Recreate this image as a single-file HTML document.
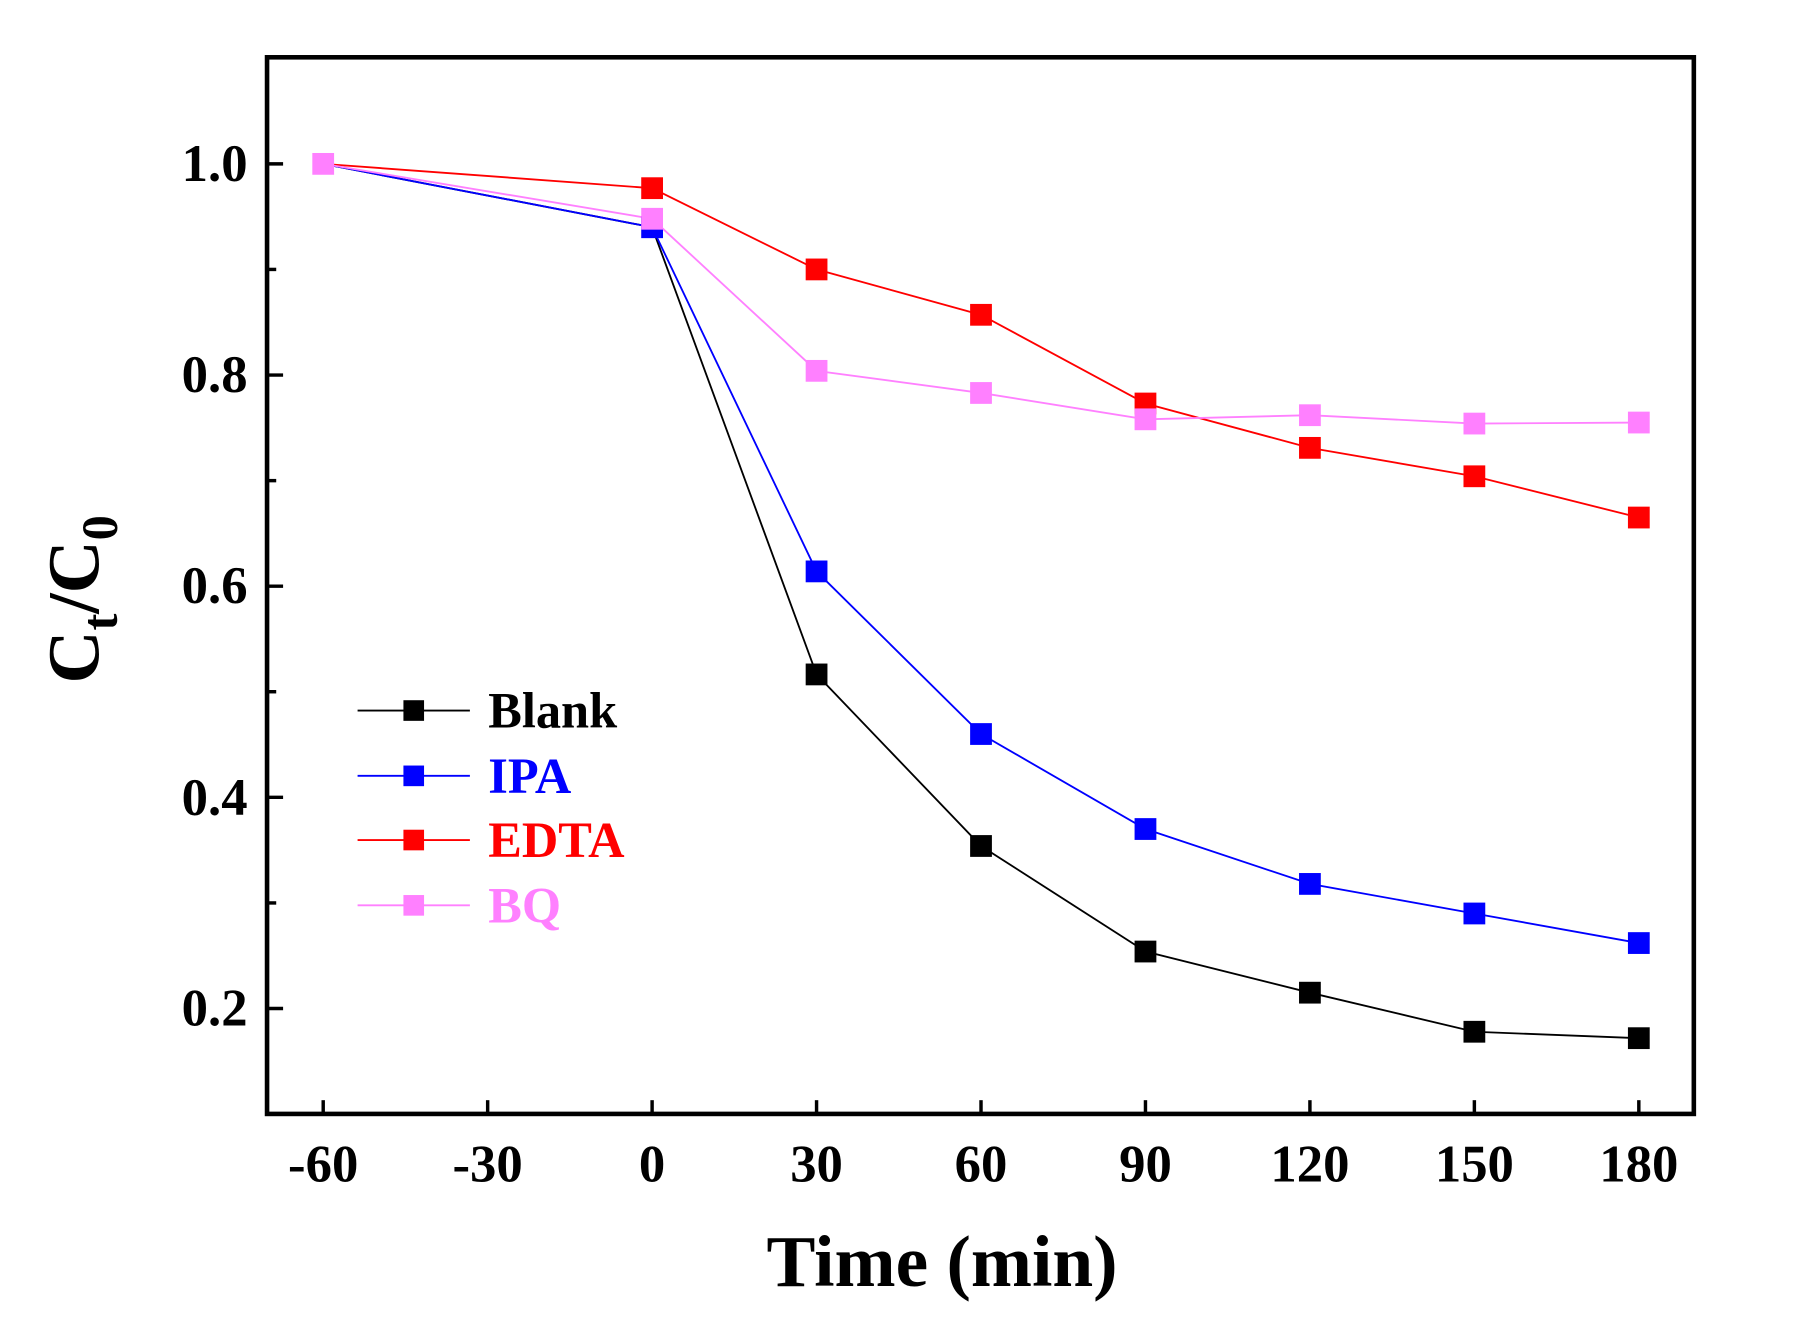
<!DOCTYPE html>
<html><head><style>html,body{margin:0;padding:0;background:#fff}svg{display:block}</style></head>
<body>
<svg width="1797" height="1339" viewBox="0 0 1568 1168.4" xmlns="http://www.w3.org/2000/svg" font-family="Liberation Serif, serif" font-weight="bold">
<rect x="0" y="0" width="1568" height="1168.4" fill="#fff"/>
<rect x="233" y="50" width="1245" height="922" fill="none" stroke="#000" stroke-width="4"/>
<g stroke="#000" stroke-width="3">
<line x1="282" y1="972" x2="282" y2="960"/><line x1="425.5" y1="972" x2="425.5" y2="960"/><line x1="569" y1="972" x2="569" y2="960"/><line x1="712.5" y1="972" x2="712.5" y2="960"/><line x1="856" y1="972" x2="856" y2="960"/><line x1="999.5" y1="972" x2="999.5" y2="960"/><line x1="1143" y1="972" x2="1143" y2="960"/><line x1="1286.5" y1="972" x2="1286.5" y2="960"/><line x1="1430" y1="972" x2="1430" y2="960"/>
<line x1="233" y1="143" x2="247" y2="143"/><line x1="233" y1="327.25" x2="247" y2="327.25"/><line x1="233" y1="511.5" x2="247" y2="511.5"/><line x1="233" y1="695.75" x2="247" y2="695.75"/><line x1="233" y1="880" x2="247" y2="880"/>
<line x1="233" y1="235.1" x2="241" y2="235.1"/><line x1="233" y1="419.4" x2="241" y2="419.4"/><line x1="233" y1="603.6" x2="241" y2="603.6"/><line x1="233" y1="787.9" x2="241" y2="787.9"/>
</g>
<g font-size="46" text-anchor="middle">
<text x="282" y="1031">-60</text><text x="425.5" y="1031">-30</text><text x="569" y="1031">0</text><text x="712.5" y="1031">30</text><text x="856" y="1031">60</text><text x="999.5" y="1031">90</text><text x="1143" y="1031">120</text><text x="1286.5" y="1031">150</text><text x="1430" y="1031">180</text>
</g>
<g font-size="46" text-anchor="end">
<text x="216" y="158">1.0</text><text x="216" y="342">0.8</text><text x="216" y="526">0.6</text><text x="216" y="711">0.4</text><text x="216" y="895">0.2</text>
</g>
<text x="822" y="1122" font-size="64" text-anchor="middle">Time (min)</text>
<text transform="translate(86,523) rotate(-90)" font-size="64" text-anchor="middle">C<tspan font-size="44" dy="16">t</tspan><tspan dy="-16">/C</tspan><tspan font-size="44" dy="16">0</tspan></text>
<g fill="none" stroke-width="1.6">
<polyline stroke="#000" points="282,143 569,198.3 712.5,588.5 856,738.2 999.5,830.3 1143,866.2 1286.5,900.3 1430,905.9"/>
<polyline stroke="#0000ff" points="282,143 569,198.3 712.5,498.6 856,640.5 999.5,723.4 1143,771.3 1286.5,797.1 1430,822.9"/>
<polyline stroke="#ff0000" points="282,143 569,164.2 712.5,235.1 856,274.7 999.5,352.1 1143,390.8 1286.5,415.6 1430,451.6"/>
<polyline stroke="#ff80ff" points="282,143 569,190.9 712.5,323.6 856,342.9 999.5,365.9 1143,362.3 1286.5,369.6 1430,368.7"/>
</g>
<g fill="#000"><rect x="703" y="579" width="19" height="19"/><rect x="846.5" y="728.7" width="19" height="19"/><rect x="990" y="820.8" width="19" height="19"/><rect x="1133.5" y="856.7" width="19" height="19"/><rect x="1277" y="890.8" width="19" height="19"/><rect x="1420.5" y="896.4" width="19" height="19"/></g>
<g fill="#0000ff"><rect x="559.5" y="188.8" width="19" height="19"/><rect x="703" y="489.1" width="19" height="19"/><rect x="846.5" y="631" width="19" height="19"/><rect x="990" y="713.9" width="19" height="19"/><rect x="1133.5" y="761.8" width="19" height="19"/><rect x="1277" y="787.6" width="19" height="19"/><rect x="1420.5" y="813.4" width="19" height="19"/></g>
<g fill="#ff0000"><rect x="559.5" y="154.7" width="19" height="19"/><rect x="703" y="225.6" width="19" height="19"/><rect x="846.5" y="265.2" width="19" height="19"/><rect x="990" y="342.6" width="19" height="19"/><rect x="1133.5" y="381.3" width="19" height="19"/><rect x="1277" y="406.1" width="19" height="19"/><rect x="1420.5" y="442.1" width="19" height="19"/></g>
<g fill="#ff80ff"><rect x="272.5" y="133.5" width="19" height="19"/><rect x="559.5" y="181.4" width="19" height="19"/><rect x="703" y="314.1" width="19" height="19"/><rect x="846.5" y="333.4" width="19" height="19"/><rect x="990" y="356.4" width="19" height="19"/><rect x="1133.5" y="352.8" width="19" height="19"/><rect x="1277" y="360.1" width="19" height="19"/><rect x="1420.5" y="359.2" width="19" height="19"/></g>
<g stroke-width="1.6">
<line x1="312" y1="620" x2="410" y2="620" stroke="#000"/><rect x="352" y="611" width="18" height="18" fill="#000"/>
<line x1="312" y1="677" x2="410" y2="677" stroke="#0000ff"/><rect x="352" y="668" width="18" height="18" fill="#0000ff"/>
<line x1="312" y1="733" x2="410" y2="733" stroke="#ff0000"/><rect x="352" y="724" width="18" height="18" fill="#ff0000"/>
<line x1="312" y1="790" x2="410" y2="790" stroke="#ff80ff"/><rect x="352" y="781" width="18" height="18" fill="#ff80ff"/>
</g>
<g font-size="44">
<text x="426" y="635" fill="#000">Blank</text>
<text x="426" y="692" fill="#0000ff">IPA</text>
<text x="426" y="748" fill="#ff0000">EDTA</text>
<text x="426" y="805" fill="#ff80ff">BQ</text>
</g>
</svg>
</body></html>
